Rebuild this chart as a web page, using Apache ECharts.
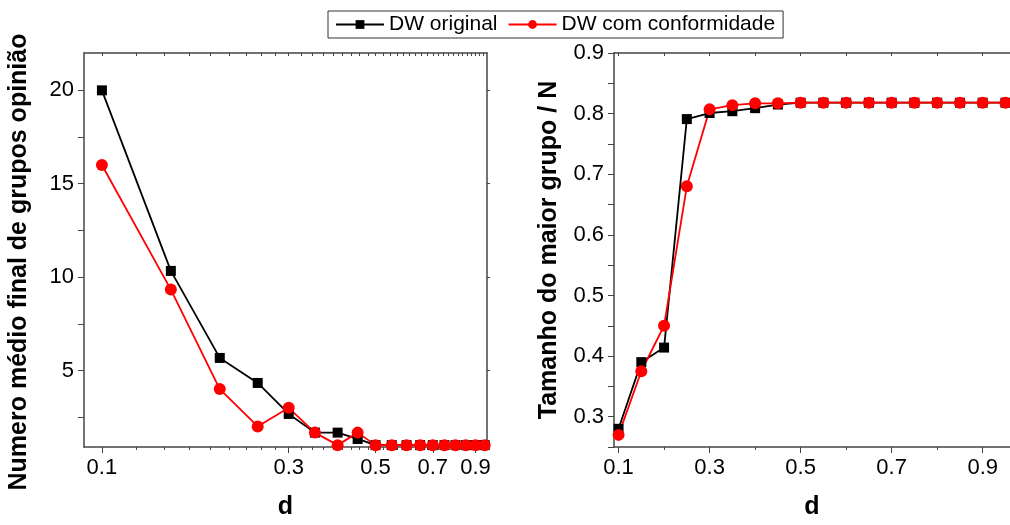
<!DOCTYPE html>
<html>
<head>
<meta charset="utf-8">
<script src="https://cdn.jsdelivr.net/npm/echarts@6/dist/echarts.min.js"></script>
<style>
  html, body { margin: 0; padding: 0; background: #fff; }
  #chart { width: 1010px; height: 525px; }
</style>
</head>
<body>
<div id="chart"></div>
<script>
// d values (same for both panels)
const dValues = [0.1, 0.15, 0.2, 0.25, 0.3, 0.35, 0.4, 0.45, 0.5, 0.55, 0.6, 0.65, 0.7, 0.75, 0.8, 0.85, 0.9, 0.95]

// left panel: mean final number of opinion groups
const leftOriginal = [20, 10.33, 5.67, 4.33, 2.67, 1.67, 1.67, 1.33, 1, 1, 1, 1, 1, 1, 1, 1, 1, 1]
const leftConform = [16, 9.33, 4, 2, 3, 1.67, 1, 1.67, 1, 1, 1, 1, 1, 1, 1, 1, 1, 1]

// right panel: size of largest group / N
const rightOriginal = [0.28, 0.39, 0.414, 0.791, 0.801, 0.804, 0.809, 0.815, 0.818, 0.818, 0.818, 0.818, 0.818, 0.818, 0.818, 0.818, 0.818, 0.818]
const rightConform = [0.27, 0.375, 0.45, 0.68, 0.807, 0.814, 0.817, 0.817, 0.818, 0.818, 0.818, 0.818, 0.818, 0.818, 0.818, 0.818, 0.818, 0.818]

// tick labels
const xTickLabels = [0.1, 0.3, 0.5, 0.7, 0.9]
const leftYTickLabels = [5, 10, 15, 20]
const rightYTickLabels = [0.3, 0.4, 0.5, 0.6, 0.7, 0.8, 0.9]

const names = ['DW original', 'DW com conformidade']
const font = 'Liberation Sans, Arial, sans-serif'
const axisColor = '#444'

// minor ticks (Origin style: 9 subdivisions on the log axis)
const leftXMinor = []
for (let i = 0; i <= 39; i++) {
  const v = +(0.1 + i * 0.2 / 9).toFixed(4)
  if (v < 0.96) leftXMinor.push(v)
}
const leftYMinor = [2.5, 7.5, 12.5, 17.5]
const rightXMinor = [0.2, 0.4, 0.6, 0.8]
const rightYMinor = [0.25, 0.35, 0.45, 0.55, 0.65, 0.75, 0.85]

const pairs = (ys) => dValues.map((d, i) => [d, ys[i]])

const chart = echarts.init(document.getElementById('chart'))

const labelStyle = { color: '#000', fontSize: 22, fontFamily: font }
const nameStyle = { color: '#000', fontSize: 25, fontWeight: 'bold', fontFamily: font }

function frameAxis(pos, type, min, max, extra) {
  return Object.assign({
    type: type,
    position: pos,
    min: min,
    max: max,
    axisLine: { show: true, lineStyle: { color: axisColor, width: 1.5 } },
    axisTick: { show: false },
    axisLabel: { show: false },
    splitLine: { show: false },
  }, extra)
}

chart.setOption({
  animation: false,
  legend: {
    data: names,
    left: 328,
    top: 11,
    padding: [3, 8, 3, 7],
    itemGap: 10,
    itemWidth: 48,
    itemHeight: 11,
    borderColor: '#333',
    borderWidth: 1,
    textStyle: { color: '#000', fontSize: 21, fontFamily: font },
  },
  grid: [
    { left: 84, top: 53, width: 403, height: 398 },
    { left: 614, top: 53, width: 402, height: 398 },
  ],
  xAxis: [
    // left panel bottom (log)
    frameAxis('bottom', 'log', 0.09, 0.963, {
      gridIndex: 0,
      logBase: 10,
      name: 'd',
      nameLocation: 'middle',
      nameGap: 48,
      nameTextStyle: nameStyle,
      axisTick: { show: true, inside: false, length: 6, customValues: xTickLabels, lineStyle: { color: axisColor } },
      axisLabel: { show: true, margin: 10, customValues: xTickLabels, formatter: (v) => String(+(+v).toFixed(1)), ...labelStyle },
    }),
    // left panel minor ticks
    frameAxis('bottom', 'log', 0.09, 0.963, {
      gridIndex: 0,
      logBase: 10,
      axisLine: { show: false },
      axisTick: { show: true, length: 3, customValues: leftXMinor, lineStyle: { color: axisColor } },
    }),
    // left panel top frame
    frameAxis('top', 'log', 0.09, 0.963, {
      gridIndex: 0,
      logBase: 10,
      axisTick: { show: true, inside: true, length: 3, customValues: leftXMinor, lineStyle: { color: axisColor } },
    }),
    // right panel bottom
    frameAxis('bottom', 'value', 0.09, 0.96, {
      gridIndex: 1,
      name: 'd',
      nameLocation: 'middle',
      nameGap: 48,
      nameTextStyle: nameStyle,
      axisTick: { show: true, length: 6, customValues: xTickLabels, lineStyle: { color: axisColor } },
      axisLabel: { show: true, margin: 10, customValues: xTickLabels, formatter: (v) => (+v).toFixed(1), ...labelStyle },
    }),
    frameAxis('bottom', 'value', 0.09, 0.96, {
      gridIndex: 1,
      axisLine: { show: false },
      axisTick: { show: true, length: 3, customValues: rightXMinor, lineStyle: { color: axisColor } },
    }),
    frameAxis('top', 'value', 0.09, 0.96, {
      gridIndex: 1,
      axisTick: { show: true, inside: true, length: 3, customValues: rightXMinor.concat(xTickLabels), lineStyle: { color: axisColor } },
    }),
  ],
  yAxis: [
    frameAxis('left', 'value', 0.9, 22, {
      gridIndex: 0,
      name: 'Numero médio final de grupos opinião',
      nameLocation: 'middle',
      nameGap: 52,
      nameTextStyle: Object.assign({ padding: [0, 0, 0, -24] }, nameStyle),
      axisTick: { show: true, length: 6, customValues: leftYTickLabels.concat(leftYMinor), lineStyle: { color: axisColor } },
      axisLabel: { show: true, margin: 10, customValues: leftYTickLabels, ...labelStyle },
    }),
    frameAxis('right', 'value', 0.9, 22, {
      gridIndex: 0,
      axisTick: { show: true, inside: false, length: 3, customValues: leftYTickLabels, lineStyle: { color: axisColor } },
    }),
    frameAxis('left', 'value', 0.25, 0.9, {
      gridIndex: 1,
      name: 'Tamanho do maior grupo / N',
      nameLocation: 'middle',
      nameGap: 52,
      nameTextStyle: nameStyle,
      axisTick: { show: true, length: 6, customValues: rightYTickLabels.concat(rightYMinor), lineStyle: { color: axisColor } },
      axisLabel: { show: true, margin: 10, customValues: rightYTickLabels, formatter: (v) => (+v).toFixed(1), ...labelStyle },
    }),
  ],
  series: [
    {
      name: names[0], type: 'line', xAxisIndex: 0, yAxisIndex: 0,
      data: pairs(leftOriginal), symbol: 'rect', symbolSize: 10,
      itemStyle: { color: '#000' }, lineStyle: { color: '#000', width: 1.8 },
    },
    {
      name: names[1], type: 'line', xAxisIndex: 0, yAxisIndex: 0,
      data: pairs(leftConform), symbol: 'circle', symbolSize: 12,
      itemStyle: { color: '#ff0000' }, lineStyle: { color: '#ff0000', width: 1.8 },
    },
    {
      name: names[0], type: 'line', xAxisIndex: 3, yAxisIndex: 2,
      data: pairs(rightOriginal), symbol: 'rect', symbolSize: 10,
      itemStyle: { color: '#000' }, lineStyle: { color: '#000', width: 1.8 },
    },
    {
      name: names[1], type: 'line', xAxisIndex: 3, yAxisIndex: 2,
      data: pairs(rightConform), symbol: 'circle', symbolSize: 12,
      itemStyle: { color: '#ff0000' }, lineStyle: { color: '#ff0000', width: 1.8 },
    },
  ],
})
</script>
</body>
</html>
